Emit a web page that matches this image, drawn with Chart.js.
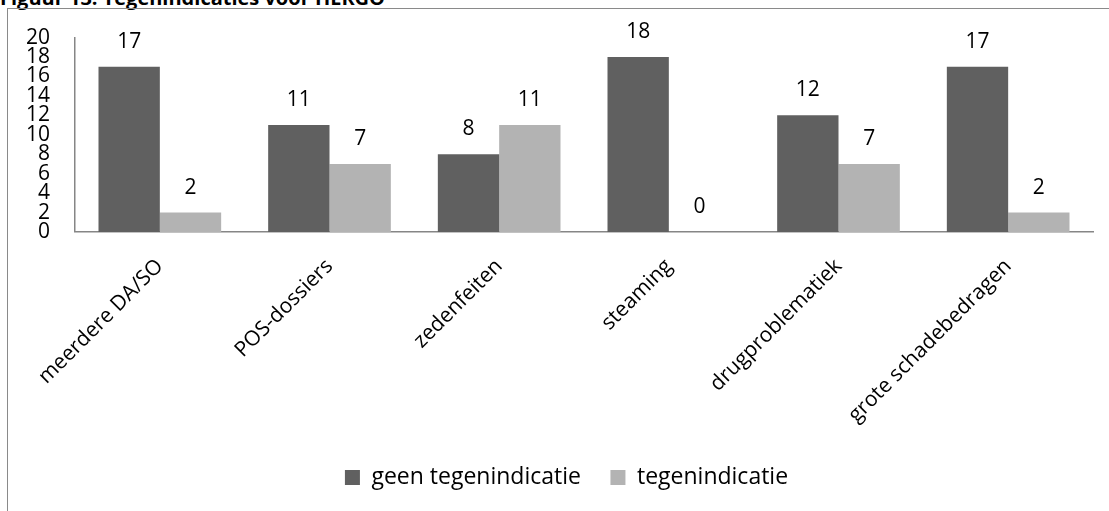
<!DOCTYPE html>
<html>
<head>
<meta charset="utf-8">
<script src="https://cdn.jsdelivr.net/npm/chart.js@4"></script>
<style>
  html, body { margin: 0; padding: 0; background: #ffffff; }
  body { width: 1109px; height: 511px; position: relative; overflow: hidden; }
  #title { position: absolute; left: 0; top: -12px; font: bold 20px "Open Sans", sans-serif; line-height: 20px; color: #000; white-space: nowrap; }
  #frame { position: absolute; left: 7px; top: 8px; width: 1200px; height: 600px; border-left: 1.5px solid #8a8a8a; border-top: 1.5px solid #8a8a8a; }
  #wrap { position: absolute; left: 0; top: 0; width: 1109px; height: 511px; }
</style>
</head>
<body>
<div id="title">Figuur 13: Tegenindicaties voor HERGO</div>
<div id="frame"></div>
<div id="wrap"><canvas id="c"></canvas></div>
<script>
const categories = ["meerdere DA/SO", "POS-dossiers", "zedenfeiten", "steaming", "drugproblematiek", "grote schadebedragen"];
const seriesNames = ["geen tegenindicatie", "tegenindicatie"];
const geenTegenindicatie = [17, 11, 8, 18, 12, 17];
const tegenindicatie = [2, 7, 11, 0, 7, 2];
const yTicks = [0, 2, 4, 6, 8, 10, 12, 14, 16, 18, 20];

const FONT = '"Open Sans", sans-serif';

const valueLabels = {
  id: 'valueLabels',
  afterDatasetsDraw(chart) {
    const ctx = chart.ctx;
    ctx.save();
    ctx.font = '21px ' + FONT;
    ctx.fillStyle = '#000';
    ctx.textAlign = 'center';
    ctx.textBaseline = 'alphabetic';
    chart.data.datasets.forEach((ds, i) => {
      const meta = chart.getDatasetMeta(i);
      meta.data.forEach((bar, j) => {
        ctx.fillText(String(ds.data[j]), bar.x, bar.y - 19);
      });
    });
    ctx.restore();
  }
};

const legendShift = {
  id: 'legendShift',
  afterLayout(chart) {
    if (chart.legend) {
      chart.legend.left += 20;
      chart.legend.right += 20;
    }
  }
};

new Chart(document.getElementById('c'), {
  type: 'bar',
  data: {
    labels: categories,
    datasets: [
      { label: seriesNames[0], data: geenTegenindicatie, backgroundColor: '#606060', borderWidth: 0 },
      { label: seriesNames[1], data: tegenindicatie, backgroundColor: '#b3b3b3', borderWidth: 0 }
    ]
  },
  options: {
    responsive: true,
    maintainAspectRatio: false,
    animation: false,
    datasets: { bar: { categoryPercentage: 0.723, barPercentage: 1.0 } },
    layout: { padding: { left: 0, right: 16, top: 37, bottom: 12 } },
    plugins: {
      tooltip: { enabled: false },
      legend: {
        position: 'bottom',
        labels: {
          font: { family: FONT, size: 23 },
          color: '#000',
          boxWidth: 15,
          boxHeight: 15,
          padding: 29.5
        }
      }
    },
    scales: {
      x: {
        grid: { display: false, drawTicks: false },
        border: { display: true, color: '#868686', width: 1.5 },
        ticks: {
          font: { family: FONT, size: 21 },
          color: '#000',
          minRotation: 45,
          maxRotation: 45,
          autoSkip: false,
          padding: 22
        },
        afterFit(scale) { scale.height = 204.5; }
      },
      y: {
        min: 0,
        max: 20,
        grid: { display: false, drawTicks: false },
        border: { display: true, color: '#868686', width: 1.5 },
        afterBuildTicks(scale) { scale.ticks = yTicks.map(v => ({ value: v })); },
        ticks: {
          font: { family: FONT, size: 21 },
          color: '#000',
          autoSkip: false,
          padding: 25
        },
        afterFit(scale) { scale.width = 75; }
      }
    }
  },
  plugins: [valueLabels, legendShift]
});
</script>
</body>
</html>
